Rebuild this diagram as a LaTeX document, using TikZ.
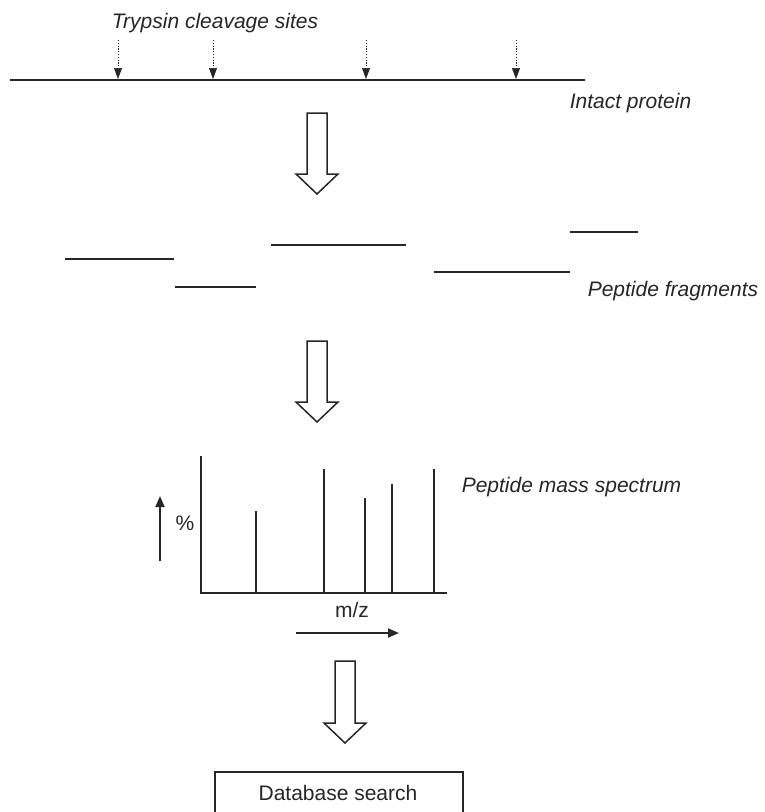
\documentclass[tikz,border=0pt]{standalone}
\usepackage{fontspec}
\setmainfont{Liberation Sans}
\usetikzlibrary{arrows.meta}
\begin{document}
\begin{tikzpicture}[x=1pt,y=-1pt,
  ink/.style={draw=black!85},
  lbl/.style={font=\fontsize{21}{24}\selectfont\itshape, text=black!85, inner sep=0pt, anchor=base},
  txt/.style={font=\fontsize{21}{24}\selectfont, text=black!85, inner sep=0pt, anchor=base},
  thick line/.style={ink, line width=2pt},
  cut/.style={ink, line width=1pt, dash pattern=on 1.2pt off 1.6pt, -{Triangle[length=11pt,width=8pt,line width=0.5pt,fill=black!85]}},
  blockarrow/.style={ink, line width=1.5pt, fill=white, line join=miter},
  axisarrow/.style={ink, line width=1.8pt, -{Triangle[length=11pt,width=9pt]}}
]
\useasboundingbox (0,0) rectangle (764,812);
\clip (0,0) rectangle (764,812);
% Intact protein
\node[lbl] (trypsin) at (215,28) {Trypsin cleavage sites};
\coordinate (pL) at (10,80);
\coordinate (pR) at (585,80);
\draw[thick line] (pL) -- (pR);
\foreach \x/\n in {118/a,213/b,366/c,516/d}{
  \coordinate (c\n t) at (\x,40);
  \coordinate (c\n b) at (\x,79);
  \draw[cut] (c\n t) -- (c\n b);
}
\node[lbl] (intact) at (630.5,108) {Intact protein};
% block arrows
\newcommand{\blockarrow}[3]{% x center, top y, tip y
  \draw[blockarrow] (#1-10,#2) -- (#1+10,#2) -- (#1+10,#3-20) -- (#1+21,#3-20)
    -- (#1,#3) -- (#1-21,#3-20) -- (#1-10,#3-20) -- cycle;}
\blockarrow{317}{113}{194}
% fragments
\draw[thick line] (65,259) -- (174,259);
\draw[thick line] (175,287) -- (256,287);
\draw[thick line] (271,245) -- (406,245);
\draw[thick line] (434,272) -- (570,272);
\draw[thick line] (570,232) -- (638,232);
\node[lbl] (frag) at (673,296) {Peptide fragments};
\blockarrow{317}{341}{422}
% spectrum
\coordinate (origin) at (201,593);
\coordinate (ytop) at (201,456);
\coordinate (xend) at (447,593);
\draw[ink, line width=1.6pt] (ytop) -- (origin) -- (xend);
\foreach \x/\h in {256/511,324/469,365/498,392/484,434/469}{
  \draw[thick line] (\x,593) -- (\x,\h);
}
\node[txt] (pct) at (185,530) {\%};
\coordinate (ua) at (160,561);
\coordinate (ub) at (160,496);
\draw[axisarrow] (ua) -- (ub);
\node[txt] (mz) at (352,617) {m/z};
\coordinate (ra) at (296,633);
\coordinate (rb) at (399,633);
\draw[axisarrow] (ra) -- (rb);
\node[lbl] (spec) at (571.5,492) {Peptide mass spectrum};
\blockarrow{345}{661}{743}
% database
\node[draw=black!85, line width=1.5pt, minimum width=248pt, minimum height=46pt, inner sep=0pt, anchor=north west] (db) at (214,771) {};
\node[txt] (dbt) at (338,800) {Database search};
\end{tikzpicture}
\end{document}
